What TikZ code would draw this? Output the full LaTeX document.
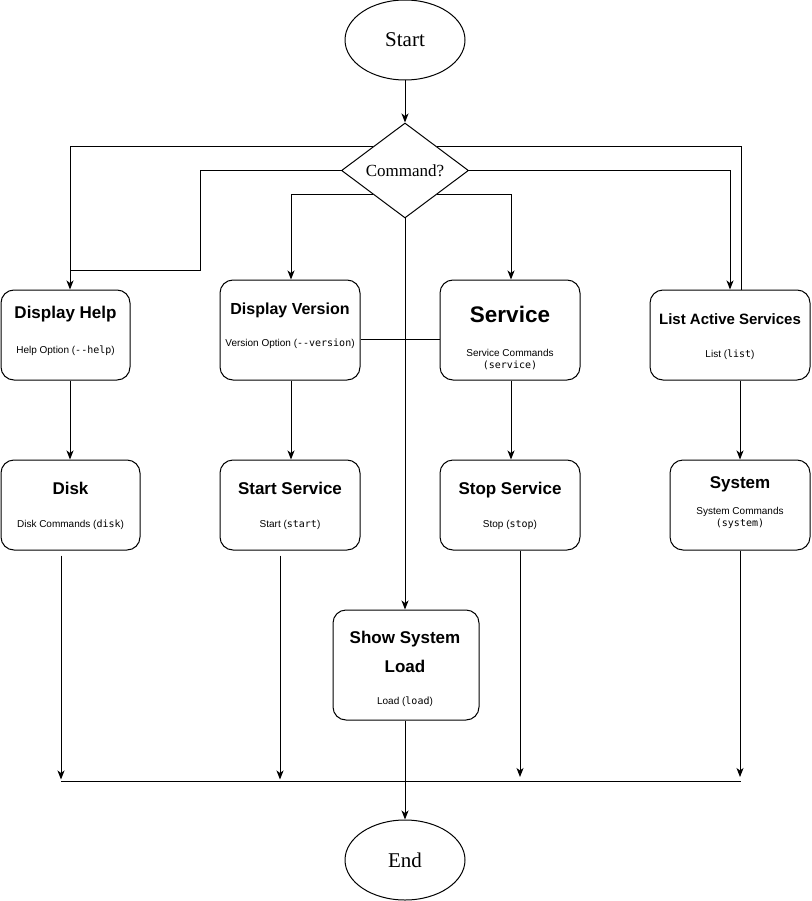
\documentclass[tikz,border=0pt]{standalone}
\usepackage{fontspec}
\setmainfont{Liberation Serif}
\setsansfont{Liberation Sans}
\setmonofont{DejaVu Sans Mono}
\usetikzlibrary{arrows.meta,shapes.geometric}
\begin{document}
\begin{tikzpicture}[x=1pt,y=-1pt,
  ln/.style={draw,line width=1pt},
  arr/.style={draw,line width=1pt,-{Stealth[length=9pt,width=7pt,inset=2.5pt]}},
  term/.style={draw,line width=1pt,ellipse,minimum width=120pt,minimum height=80pt,inner sep=0pt,font=\fontsize{21}{24}\selectfont},
  box/.style={draw,line width=1pt,rounded corners=13pt,inner sep=0pt},
  ttl/.style={anchor=base,inner sep=0pt,font=\sffamily\bfseries\fontsize{17}{20}\selectfont},
  sub/.style={anchor=base,inner sep=0pt,font=\sffamily\fontsize{10}{12}\selectfont}
]
\useasboundingbox (0,0) rectangle (811,901);

% terminals and decision
\node[term] (start) at (405,40) {Start};
\node[draw,line width=1pt,diamond,aspect=1.337,minimum width=127pt,minimum height=95pt,inner sep=0pt,font=\fontsize{17}{20}\selectfont] (dec) at (405,170.5) {Command?};
\node[term] (end) at (405,860) {End};

% boxes row 1
\node[box,minimum width=129pt,minimum height=90pt] (help) at (65.5,335) {};
\node[box,minimum width=140pt,minimum height=100pt] (ver) at (290,330) {};
\node[box,minimum width=140pt,minimum height=100pt] (svc) at (510,330) {};
\node[box,minimum width=160pt,minimum height=90pt] (list) at (730,335) {};
% boxes row 2
\node[box,minimum width=139pt,minimum height=90pt] (disk) at (70.5,505) {};
\node[box,minimum width=140pt,minimum height=90pt] (start2) at (290,505) {};
\node[box,minimum width=140pt,minimum height=90pt] (stop) at (510,505) {};
\node[box,minimum width=140pt,minimum height=90pt] (sys) at (740,505) {};
% box row 3
\node[box,minimum width=146pt,minimum height=110pt] (load) at (406,665) {};

% texts
\node[ttl] (helpT) at (65.5,318) {Display Help};
\node[sub] (helpS) at (65.5,353) {Help Option (\texttt{-{}-help})};
\node[ttl,font=\sffamily\bfseries\fontsize{16}{19}\selectfont] (verT) at (290,314) {Display Version};
\node[sub] (verS) at (290,346) {Version Option (\texttt{-{}-version})};
\node[ttl,font=\sffamily\bfseries\fontsize{22.5}{26}\selectfont] (svcT) at (510,322) {Service};
\node[sub] (svcS1) at (510,356) {Service Commands};
\node[sub] (svcS2) at (510,368) {\texttt{(service)}};
\node[ttl,font=\sffamily\bfseries\fontsize{15}{18}\selectfont] (listT) at (730,324) {List Active Services};
\node[sub] (listS) at (730,357) {List (\texttt{list})};
\node[ttl] (diskT) at (70.5,494) {Disk};
\node[sub] (diskS) at (70.5,527) {Disk Commands (\texttt{disk})};
\node[ttl] (startT) at (290,494) {Start Service};
\node[sub] (startS) at (290,527) {Start (\texttt{start})};
\node[ttl] (stopT) at (510,494) {Stop Service};
\node[sub] (stopS) at (510,527) {Stop (\texttt{stop})};
\node[ttl] (sysT) at (740,488) {System};
\node[sub] (sysS1) at (740,514) {System Commands};
\node[sub] (sysS2) at (740,526) {\texttt{(system)}};
\node[ttl] (loadT1) at (405,643) {Show System};
\node[ttl] (loadT2) at (405,672) {Load};
\node[sub] (loadS) at (405,704) {Load (\texttt{load})};

% junction coordinates
\coordinate (hj) at (70,270);
\coordinate (b1) at (61,781);
\coordinate (b2) at (280,781);
\coordinate (b3) at (520,781);
\coordinate (b4) at (740,781);
\coordinate (bl) at (61,781);
\coordinate (br) at (741,781);

% connectors
\draw[arr] (start) -- (dec.north);
\draw[arr] (dec.north west) -| ([xshift=4.5pt]help.north);
\draw[ln] (dec.west) -- (200,170.5) -- (200,270) -- (hj);
\draw[arr] (dec.east) -| (list.north);
\draw[ln] (dec.north east) -| ([xshift=11pt]list.north);
\draw[arr] (dec.south west) -| ([xshift=1pt]ver.north);
\draw[arr] (dec.south east) -| ([xshift=1pt]svc.north);
\draw[arr] (dec.south) -- ([xshift=-1pt]load.north);
\draw[ln] ([yshift=-9pt]ver.east) -- ([yshift=-9pt]svc.west);

\draw[arr] ([xshift=4.5pt]help.south) -- ([xshift=-0.5pt]disk.north);
\draw[arr] ([xshift=1pt]ver.south) -- ([xshift=1pt]start2.north);
\draw[arr] ([xshift=1pt]svc.south) -- ([xshift=1pt]stop.north);
\draw[arr] ([xshift=10pt]list.south) -- (sys.north);

\draw[arr] ([xshift=-9.5pt,yshift=-5pt]disk.south) -- ([yshift=1.5pt]b1);
\draw[arr] ([xshift=-10pt,yshift=-5pt]start2.south) -- ([yshift=1.5pt]b2);
\draw[arr] ([xshift=10pt]stop.south) -- ([yshift=4pt]b3);
\draw[arr] (sys.south) -- ([yshift=4pt]b4);
\draw[ln] (bl) -- (br);
\draw[arr] ([xshift=-1pt]load.south) -- (end.north);
\end{tikzpicture}
\end{document}
